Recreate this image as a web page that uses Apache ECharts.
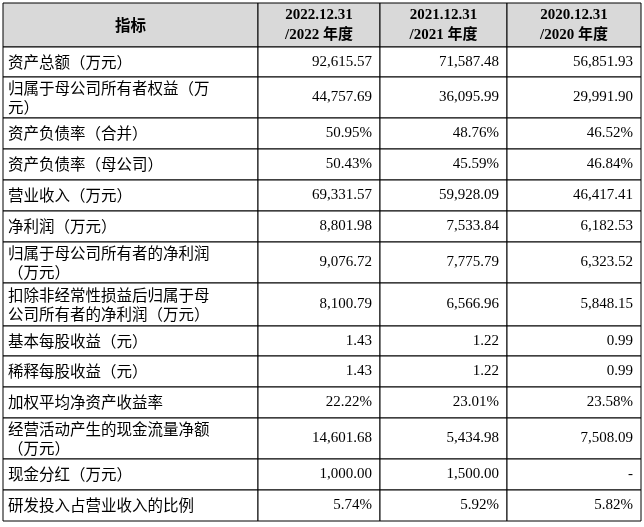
<!DOCTYPE html>
<html><head><meta charset="utf-8">
<script src="https://cdn.jsdelivr.net/npm/echarts@6/dist/echarts.min.js"></script>
<style>html,body{margin:0;padding:0;background:#fff}#c{width:644px;height:527px}</style>
</head><body><div id="c"></div>
<script>
const headers = ['指标', '2022.12.31\n/2022 年度', '2021.12.31\n/2021 年度', '2020.12.31\n/2020 年度'];
const indicators = ['资产总额（万元）','归属于母公司所有者权益（万\n元）','资产负债率（合并）','资产负债率（母公司）','营业收入（万元）','净利润（万元）','归属于母公司所有者的净利润\n（万元）','扣除非经常性损益后归属于母\n公司所有者的净利润（万元）','基本每股收益（元）','稀释每股收益（元）','加权平均净资产收益率','经营活动产生的现金流量净额\n（万元）','现金分红（万元）','研发投入占营业收入的比例'];
const v2022 = ['92,615.57','44,757.69','50.95%','50.43%','69,331.57','8,801.98','9,076.72','8,100.79','1.43','1.43','22.22%','14,601.68','1,000.00','5.74%'];
const v2021 = ['71,587.48','36,095.99','48.76%','45.59%','59,928.09','7,533.84','7,775.79','6,566.96','1.22','1.22','23.01%','5,434.98','1,500.00','5.92%'];
const v2020 = ['56,851.93','29,991.90','46.52%','46.84%','46,417.41','6,182.53','6,323.52','5,848.15','0.99','0.99','23.58%','7,508.09','-','5.82%'];

// layout (not data)
const colX = [3, 258, 380, 507, 641];
const rowY = [3, 47, 77, 118, 149, 180, 211, 242, 283, 326, 356, 387, 418, 459, 490, 521];

const table = [headers];
indicators.forEach((n, i) => table.push([n, v2022[i], v2021[i], v2020[i]]));
const cells = [];
table.forEach((row, r) => row.forEach((t, c) => cells.push({value: [c, r], text: t})));

const chart = echarts.init(document.getElementById('c'));
chart.setOption({
  animation: false,
  grid: {left: 0, right: 0, top: 0, bottom: 0},
  xAxis: {type: 'value', min: 0, max: 644, show: false},
  yAxis: {type: 'value', min: 0, max: 527, inverse: true, show: false},
  series: [{
    type: 'custom',
    data: cells,
    renderItem: function (params, api) {
      const c = api.value(0), r = api.value(1);
      const p0 = api.coord([colX[c], rowY[r]]);
      const p1 = api.coord([colX[c + 1], rowY[r + 1]]);
      const w = p1[0] - p0[0], h = p1[1] - p0[1];
      const text = cells[params.dataIndex].text;
      const isHead = r === 0;
      let tx, align;
      if (isHead) { tx = p0[0] + w / 2; align = 'center'; }
      else if (c === 0) { tx = p0[0] + 5; align = 'left'; }
      else { tx = p1[0] - 8; align = 'right'; }
      const font = c === 0 ? '"Noto Sans CJK SC"' : '"Liberation Serif", "Noto Sans CJK SC"';
      return {
        type: 'group',
        children: [
          {type: 'rect', shape: {x: p0[0], y: p0[1], width: w, height: h},
           style: {fill: isHead ? '#d9d9d9' : '#fff', stroke: '#000', lineWidth: 1}},
          {type: 'text', style: {
            x: tx, y: p0[1] + h / 2, text: text, align: align, verticalAlign: 'middle',
            fill: '#000', fontSize: c === 0 ? 15.5 : 15,
            fontWeight: isHead ? 'bold' : 'normal',
            fontFamily: font, lineHeight: isHead ? 20 : 19
          }}
        ]
      };
    }
  }]
});
</script></body></html>
